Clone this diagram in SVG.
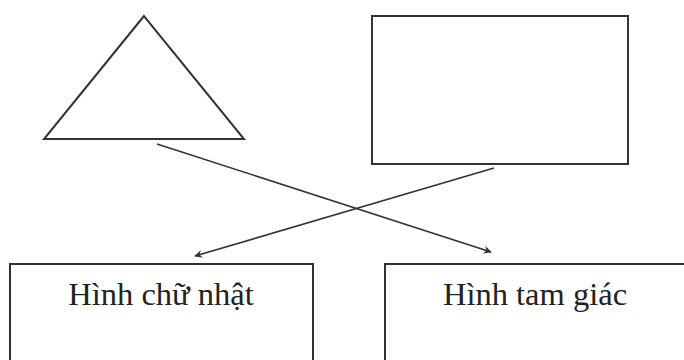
<svg xmlns="http://www.w3.org/2000/svg" width="684" height="360" viewBox="0 0 684 360">
<style>
.s{fill:#fff;stroke:#333;stroke-width:2}
.c{fill:none;stroke:#333;stroke-width:1.6}
.t{font-family:"Liberation Serif",serif;font-size:32.5px;fill:#222;text-anchor:middle}
</style>
<defs>
<marker id="a" viewBox="0 0 10 10" refX="9" refY="5" markerWidth="8" markerHeight="8" markerUnits="userSpaceOnUse" orient="auto">
<path d="M0,0 L10,5 L0,10 L3,5 Z" fill="#333"/>
</marker>
</defs>
<rect width="684" height="360" fill="#fff"/>
<g id="triangle"><polygon class="s" points="144,16 44,139 244,139"/></g>
<g id="rectangle"><rect class="s" x="372" y="16" width="256" height="148"/></g>
<g id="hinh-chu-nhat"><rect class="s" x="10" y="264" width="303" height="110"/><text class="t" x="161" y="305">Hình chữ nhật</text></g>
<g id="hinh-tam-giac"><rect class="s" x="385" y="264" width="310" height="110"/><text class="t" x="535" y="305">Hình tam giác</text></g>
<g id="connectors">
<line class="c" x1="157" y1="144" x2="491" y2="252" marker-end="url(#a)"/>
<line class="c" x1="494" y1="168" x2="195" y2="256" marker-end="url(#a)"/>
</g>
</svg>
